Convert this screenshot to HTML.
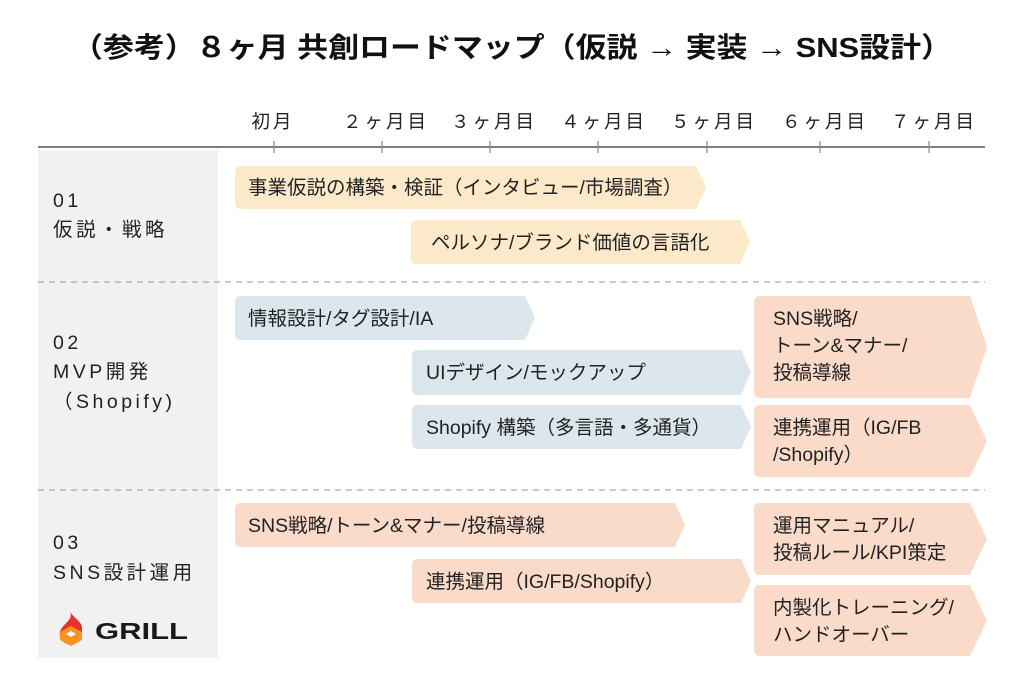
<!DOCTYPE html>
<html><head><meta charset="utf-8"><style>
html,body{margin:0;padding:0;background:#fff;}
svg{display:block;}
text{font-family:"Liberation Sans","Noto Sans CJK JP",sans-serif;fill:#222;}
</style></head><body>
<svg width="1024" height="683" viewBox="0 0 1024 683" xmlns="http://www.w3.org/2000/svg">
<text x="512" y="57" text-anchor="middle" font-size="28" font-weight="bold" textLength="880" lengthAdjust="spacingAndGlyphs" style="fill:#111">（参考）８ヶ月 共創ロードマップ（仮説 → 実装 → SNS設計）</text>

<rect x="38" y="150" width="180" height="508" fill="#f1f1f1"/>

<line x1="38" y1="147" x2="985" y2="147" stroke="#555" stroke-width="1.6"/>
<g stroke="#888" stroke-width="1.2">
<line x1="274" y1="141" x2="274" y2="153"/><line x1="382" y1="141" x2="382" y2="153"/>
<line x1="490" y1="141" x2="490" y2="153"/><line x1="598" y1="141" x2="598" y2="153"/>
<line x1="707" y1="141" x2="707" y2="153"/><line x1="820" y1="141" x2="820" y2="153"/>
<line x1="929" y1="141" x2="929" y2="153"/>
</g>
<g font-size="18.5" text-anchor="middle" letter-spacing="3">
<text x="273" y="128">初月</text>
<text x="386" y="128">２ヶ月目</text>
<text x="494" y="128">３ヶ月目</text>
<text x="604" y="128">４ヶ月目</text>
<text x="714" y="128">５ヶ月目</text>
<text x="825" y="128">６ヶ月目</text>
<text x="934" y="128">７ヶ月目</text>
</g>

<g stroke="#aaa" stroke-width="1.2" stroke-dasharray="6,5">
<line x1="38" y1="282" x2="985" y2="282"/>
<line x1="38" y1="490" x2="985" y2="490"/>
</g>

<g font-size="19.5" letter-spacing="3.5">
<text x="53" y="207">01</text>
<text x="53" y="236">仮説・戦略</text>
<text x="53" y="349">02</text>
<text x="53" y="378">MVP開発</text>
<text x="53" y="408">（Shopify)</text>
<text x="53" y="549">03</text>
<text x="53" y="579">SNS設計運用</text>
</g>

<path d="M70 612 C74 620 62 624 60 632 C58 640 66 645 72 645 L82 638 L82 628 C82 622 76 620 70 612 Z" fill="#e8332a"/>
<path d="M60 632 L71 626 L82 632 L82 640 L71 646 L60 640 Z" fill="#f7931e"/>
<path d="M66 634 L71 631 L76 634 L71 637 Z" fill="#fff"/>
<text x="95" y="639" font-size="23" font-weight="bold" textLength="93" lengthAdjust="spacingAndGlyphs" style="fill:#1a1a1a">GRILL</text>

<g>
<path d="M241 166 H696 L706 187.5 L696 209 H241 Q235 209 235 203 V172 Q235 166 241 166 Z" fill="#fbe9c9"/>
<path d="M417 220 H740 L750 242 L740 264 H417 Q411 264 411 258 V226 Q411 220 417 220 Z" fill="#fbe9c9"/>
<path d="M241 296 H525 L535 318 L525 340 H241 Q235 340 235 334 V302 Q235 296 241 296 Z" fill="#dce6ed"/>
<path d="M418 350 H741 L751 372.5 L741 395 H418 Q412 395 412 389 V356 Q412 350 418 350 Z" fill="#dce6ed"/>
<path d="M418 405 H741 L751 427 L741 449 H418 Q412 449 412 443 V411 Q412 405 418 405 Z" fill="#dce6ed"/>
<path d="M760 296 H970 L987 347 L970 398 H760 Q754 398 754 392 V302 Q754 296 760 296 Z" fill="#fadbca"/>
<path d="M760 405 H970 L987 441 L970 477 H760 Q754 477 754 471 V411 Q754 405 760 405 Z" fill="#fadbca"/>
<path d="M241 503 H675 L685 525 L675 547 H241 Q235 547 235 541 V509 Q235 503 241 503 Z" fill="#fadbca"/>
<path d="M418 559 H741 L751 581 L741 603 H418 Q412 603 412 597 V565 Q412 559 418 559 Z" fill="#fadbca"/>
<path d="M760 503 H970 L987 539 L970 575 H760 Q754 575 754 569 V509 Q754 503 760 503 Z" fill="#fadbca"/>
<path d="M760 585 H970 L987 620.5 L970 656 H760 Q754 656 754 650 V591 Q754 585 760 585 Z" fill="#fadbca"/>
</g>

<g font-size="19.5">
<text x="248" y="194">事業仮説の構築・検証（インタビュー/市場調査）</text>
<text x="431" y="249">ペルソナ/ブランド価値の言語化</text>
<text x="248" y="325">情報設計/タグ設計/IA</text>
<text x="426" y="379">UIデザイン/モックアップ</text>
<text x="426" y="434">Shopify 構築（多言語・多通貨）</text>
<text x="773" y="325">SNS戦略/</text>
<text x="773" y="352">トーン&amp;マナー/</text>
<text x="773" y="379">投稿導線</text>
<text x="773" y="434">連携運用（IG/FB</text>
<text x="773" y="461">/Shopify）</text>
<text x="248" y="532">SNS戦略/トーン&amp;マナー/投稿導線</text>
<text x="426" y="588">連携運用（IG/FB/Shopify）</text>
<text x="773" y="532">運用マニュアル/</text>
<text x="773" y="559">投稿ルール/KPI策定</text>
<text x="773" y="614">内製化トレーニング/</text>
<text x="773" y="641">ハンドオーバー</text>
</g>
</svg>
</body></html>
